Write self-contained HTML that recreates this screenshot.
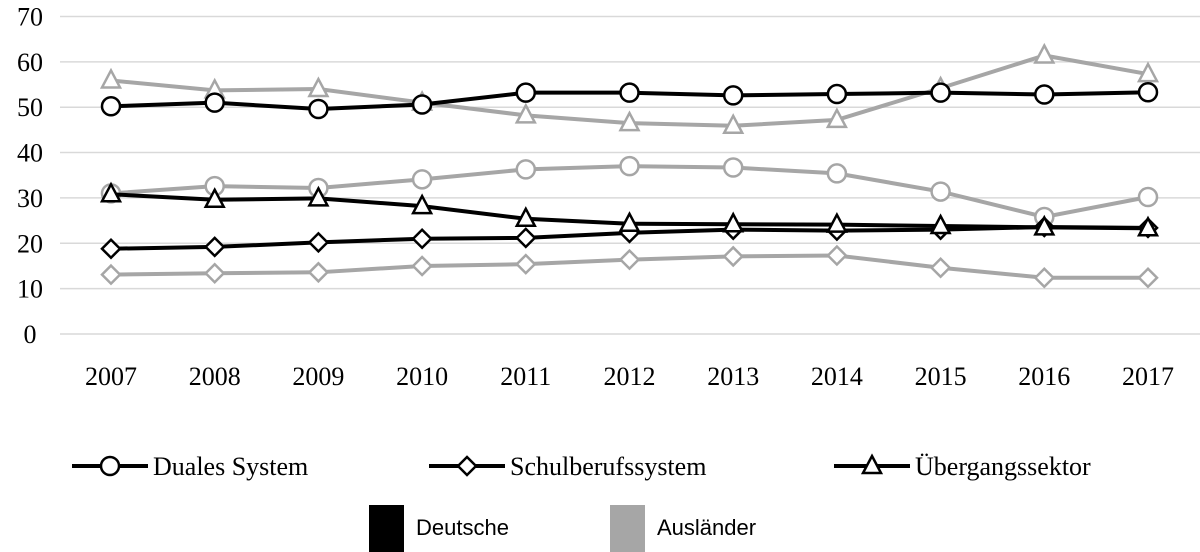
<!DOCTYPE html>
<html><head><meta charset="utf-8"><style>
body{margin:0;background:#fff;width:1200px;height:552px;overflow:hidden}
svg{display:block}
.t{font-family:"Liberation Serif",serif;font-size:26px;fill:#000}
.s{font-family:"Liberation Sans",sans-serif;font-size:22px;fill:#000}
</style></head><body>
<svg id="c" width="1200" height="552">
<g id="grid"></g><g id="series"></g><g id="legend"></g>
</svg>
<script>
const years=["2007","2008","2009","2010","2011","2012","2013","2014","2015","2016","2017"];
const yTicks=[0,10,20,30,40,50,60,70];
const deDuales=[50.2,51,49.6,50.6,53.2,53.2,52.6,52.9,53.2,52.8,53.3];
const deSchul=[18.8,19.2,20.2,21,21.2,22.3,23,22.8,23,23.6,23.4];
const deUeber=[30.8,29.6,29.9,28.2,25.4,24.3,24.2,24.1,23.8,23.5,23.3];
const auDuales=[31,32.6,32.2,34.1,36.3,37,36.7,35.4,31.4,25.8,30.2];
const auSchul=[13.1,13.4,13.6,15,15.4,16.4,17.1,17.3,14.6,12.4,12.4];
const auUeber=[55.9,53.7,54,51,48.2,46.5,45.9,47.2,54.2,61.4,57.3];
const NS="http://www.w3.org/2000/svg";
const x=i=>111+i*103.7;
const y=v=>334-v*4.536;
function mk(tag,attrs,parent){const e=document.createElementNS(NS,tag);for(const k in attrs)e.setAttribute(k,attrs[k]);parent.appendChild(e);return e;}
const grid=document.getElementById('grid');
yTicks.forEach(v=>{
 const l=mk('line',{x1:60,x2:1200,y1:y(v),y2:y(v),stroke:'#d9d9d9','stroke-width':1.5},grid);
 
 
 const t=mk('text',{x:30,y:y(v)+9,'text-anchor':'middle',class:'t'},grid);t.textContent=v;
 
 
});
years.forEach((yr,i)=>{
 const t=mk('text',{x:x(i),y:385,'text-anchor':'middle',class:'t'},grid);t.textContent=yr;
 
 
});
function marker(type,cx,cy,col,p){
 let e;
 if(type==='o')e=mk('circle',{cx:cx,cy:cy,r:9,fill:'#fff',stroke:col,'stroke-width':2.5},p);
 else if(type==='d')e=mk('polygon',{points:`${cx},${cy-9} ${cx+9},${cy} ${cx},${cy+9} ${cx-9},${cy}`,fill:'#fff',stroke:col,'stroke-width':2.5},p);
 else e=mk('polygon',{points:`${cx},${cy-10} ${cx+9},${cy+7} ${cx-9},${cy+7}`,fill:'#fff',stroke:col,'stroke-width':2.5},p);
 return e;
}
const ser=document.getElementById('series');
const all=[[auSchul,'d','#a6a6a6','auslaender-schulberuf'],[auDuales,'o','#a6a6a6','auslaender-duales'],[auUeber,'t','#a6a6a6','auslaender-uebergang'],
[deSchul,'d','#000','deutsche-schulberuf'],[deUeber,'t','#000','deutsche-uebergang'],[deDuales,'o','#000','deutsche-duales']];
all.forEach(([d,m,c,n])=>{
 const g=mk('g',{},ser);
 
 
 mk('polyline',{points:d.map((v,i)=>x(i)+','+y(v)).join(' '),fill:'none',stroke:c,'stroke-width':4},g);
 d.forEach((v,i)=>{const e=marker(m,x(i),y(v),c,g);
  
  });
});
const lg=document.getElementById('legend');
[[110,'o','Duales System'],[467,'d','Schulberufssystem'],[872,'t','Übergangssektor']].forEach(([cx,m,lab])=>{
 const g=mk('g',{},lg);
 
 
 mk('line',{x1:cx-38,x2:cx+38,y1:466,y2:466,stroke:'#000','stroke-width':4},g);
 marker(m,cx,466,'#000',g);
 const t=mk('text',{x:cx+43,y:475,class:'t'},g);t.textContent=lab;
});
[[369,'#000','Deutsche'],[610,'#a6a6a6','Ausländer']].forEach(([rx,c,lab])=>{
 const g=mk('g',{},lg);
 
 
 mk('rect',{x:rx,y:505,width:35,height:47,fill:c},g);
 const t=mk('text',{x:rx+47,y:535,class:'s'},g);t.textContent=lab;
});
</script>
</body></html>
